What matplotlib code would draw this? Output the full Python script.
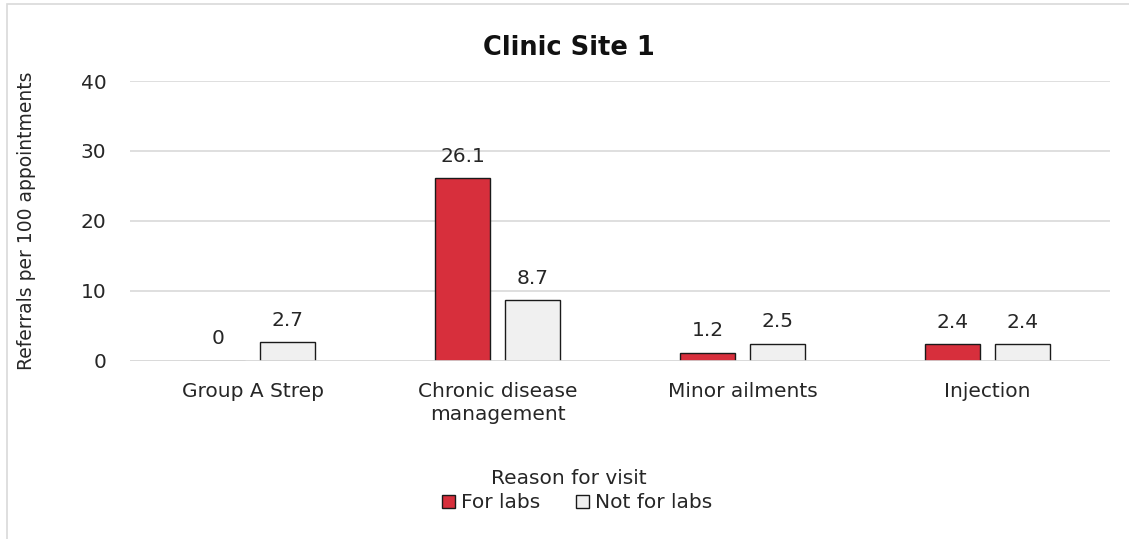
import matplotlib.pyplot as plt
import numpy as np
from matplotlib.patches import Rectangle, Patch

categories = ["Group A Strep", "Chronic disease\nmanagement", "Minor ailments", "Injection"]
for_labs = [0, 26.1, 1.2, 2.4]
not_for_labs = [2.7, 8.7, 2.5, 2.4]
series_names = ["For labs", "Not for labs"]
y_ticks = [0, 10, 20, 30, 40]

plt.rcParams['font.family'] = ['DejaVu Sans']

fig = plt.figure(figsize=(11.29, 5.39), dpi=100)
ax = fig.add_axes([130 / 1129, 1 - 361 / 539, 980 / 1129, (361 - 81) / 539])

x = np.arange(len(categories))
w = 0.225
gap = 0.06
red = "#D72F3C"
light = "#F0F0F0"
txt = "#262626"
fs = 14.5

b1 = ax.bar(x - (w + gap) / 2, for_labs, w, color=red, edgecolor="#1a1a1a", linewidth=1, zorder=3)
b2 = ax.bar(x + (w + gap) / 2, not_for_labs, w, color=light, edgecolor="#1a1a1a", linewidth=1, zorder=3)

for bars, vals in ((b1, for_labs), (b2, not_for_labs)):
    for rect, v in zip(bars, vals):
        ax.annotate(f"{v:g}", (rect.get_x() + rect.get_width() / 2, v),
                    xytext=(0, 9), textcoords="offset points",
                    ha="center", va="bottom", fontsize=fs, color=txt)

ax.set_xlim(-0.5, len(categories) - 0.5)
ax.set_ylim(0, 40)
ax.set_yticks(y_ticks)
ax.set_xticks(x)
ax.set_xticklabels(categories, fontsize=fs, color=txt, linespacing=1.3)
ax.tick_params(axis="y", labelsize=fs, colors=txt, length=0, pad=17)
ax.tick_params(axis="x", length=0, pad=15)
ax.grid(axis="y", color="#D9D9D9", linewidth=1.2, zorder=0)
for s in ax.spines.values():
    s.set_visible(False)
ax.axhline(0, color="#D9D9D9", linewidth=1.2, zorder=4)

ax.set_ylabel("Referrals per 100 appointments", fontsize=13.5, color=txt, labelpad=32)
fig.text(569 / 1129, 1 - 48 / 539, "Clinic Site 1", ha="center", va="center",
         fontsize=18.5, fontweight="bold", color="#111111")
fig.text(569 / 1129, 1 - 478 / 539, "Reason for visit", ha="center", va="center",
         fontsize=fs, color=txt)

handles = [Patch(facecolor=red, edgecolor="#1a1a1a"), Patch(facecolor=light, edgecolor="#1a1a1a")]
fig.legend(handles, series_names, loc="center", bbox_to_anchor=(577 / 1129, 1 - 503 / 539),
           ncol=2, frameon=False, fontsize=fs, handlelength=0.65, handleheight=0.65,
           handletextpad=0.3, columnspacing=1.75, labelcolor=txt, borderpad=0)

fig.patches.append(Rectangle((7 / 1129, -0.1), 1.2, 1 - 4 / 539 + 0.1, transform=fig.transFigure,
                             fill=False, edgecolor="#D9D9D9", linewidth=1.2))

fig.savefig("out.png", dpi=100)
